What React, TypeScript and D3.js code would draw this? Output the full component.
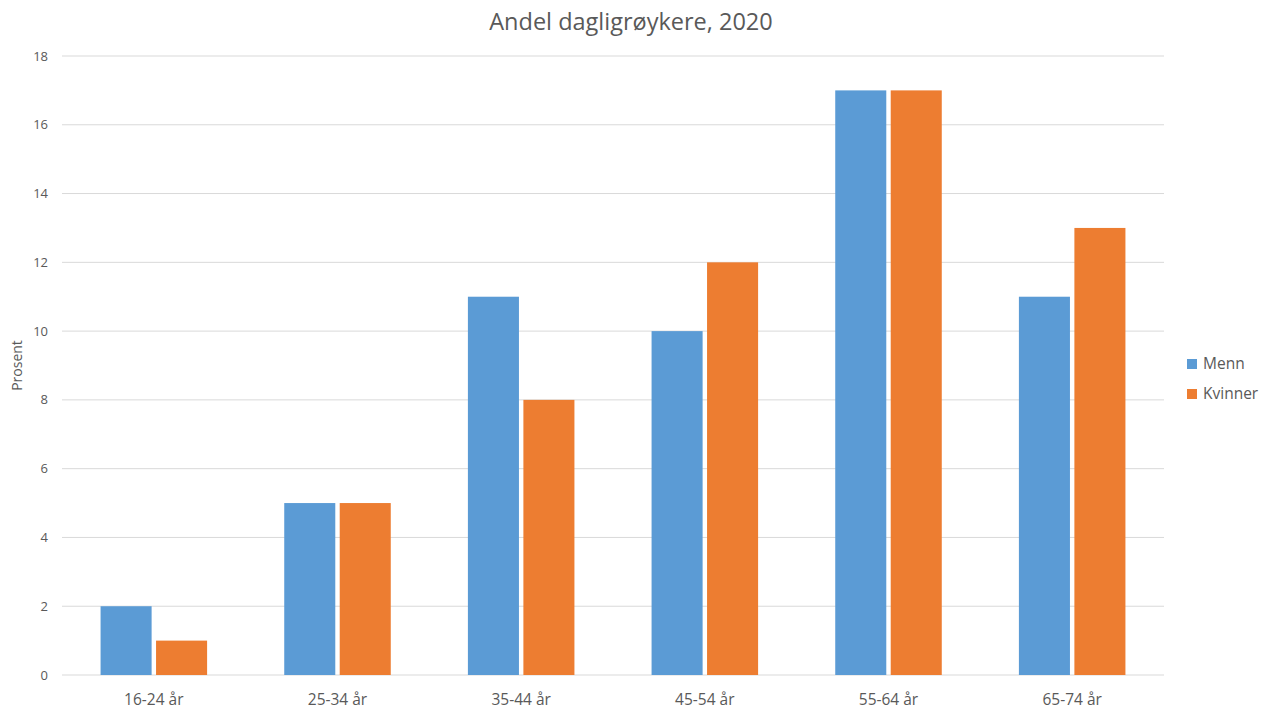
import React from "react";
import * as d3 from "d3";

const categories = ["16-24 år", "25-34 år", "35-44 år", "45-54 år", "55-64 år", "65-74 år"];
const seriesNames = ["Menn", "Kvinner"];
const menn = [2, 5, 11, 10, 17, 11];
const kvinner = [1, 5, 8, 12, 17, 13];
const yTicks = [0, 2, 4, 6, 8, 10, 12, 14, 16, 18];
const colors = ["#5B9BD5", "#ED7D31"];
const title = "Andel dagligrøykere, 2020";
const yLabel = "Prosent";

const W = 1271, H = 711;
const left = 62, right = 1164, top = 56, bottom = 675;
const font = "Open Sans, sans-serif";

export default function App() {
  const x = d3.scaleBand<string>().domain(categories).range([left, right]).paddingInner(0.42).paddingOuter(0.21);
  const xs = d3.scaleBand<string>().domain(seriesNames).range([0, x.bandwidth()]).paddingInner(0.08);
  const y = d3.scaleLinear().domain([0, 18]).range([bottom, top]);
  const data = [menn, kvinner];
  return (
    <svg width={W} height={H} style={{ position: "absolute", left: 0, top: 0, background: "#fff" }}>
      <text x={631} y={30} textAnchor="middle" fontFamily={font} fontSize={23.5} fill="#595959">{title}</text>
      {yTicks.map((t) => (
        <g key={t}>
          <line x1={left} x2={right} y1={y(t)} y2={y(t)} stroke="#D9D9D9" strokeWidth={1} />
          <text x={48} y={y(t)} dy="0.35em" textAnchor="end" fontFamily={font} fontSize={13} fill="#595959">{t}</text>
        </g>
      ))}
      <text transform={`translate(22,${(top + bottom) / 2}) rotate(-90)`} textAnchor="middle" fontFamily={font} fontSize={14} fill="#595959">{yLabel}</text>
      {categories.map((c, i) => (
        <g key={c}>
          {seriesNames.map((s, j) => (
            <rect key={s} x={(x(c) as number) + (xs(s) as number)} y={y(data[j][i])} width={xs.bandwidth()} height={bottom - y(data[j][i])} fill={colors[j]} />
          ))}
          <text x={(x(c) as number) + x.bandwidth() / 2} y={705} textAnchor="middle" fontFamily={font} fontSize={15.5} fill="#595959">{c}</text>
        </g>
      ))}
      {seriesNames.map((s, j) => (
        <g key={s} transform={`translate(1187,${359 + j * 30})`}>
          <rect x={0} y={0} width={10} height={10} fill={colors[j]} />
          <text x={16} y={5} dy="0.35em" fontFamily={font} fontSize={15.5} fill="#595959">{s}</text>
        </g>
      ))}
    </svg>
  );
}
